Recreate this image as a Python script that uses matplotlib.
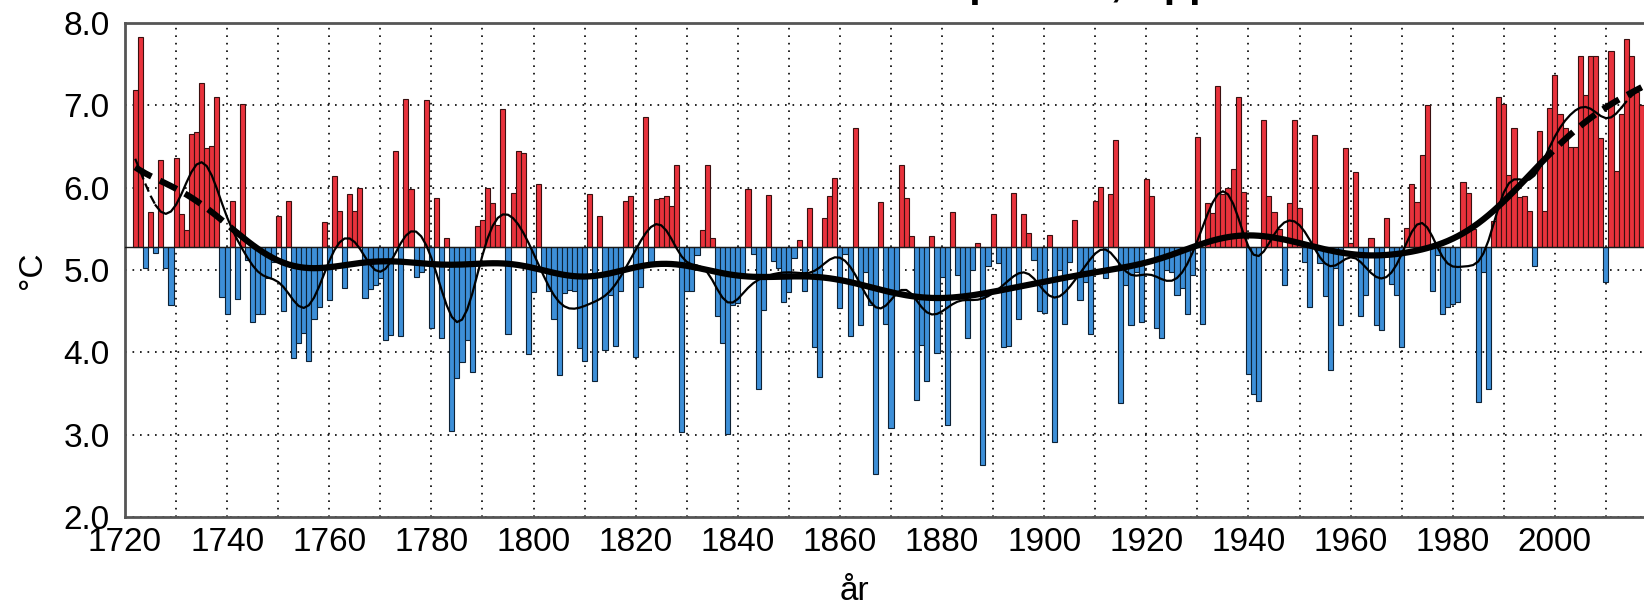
import numpy as np
import matplotlib.pyplot as plt

plt.rcParams['font.family'] = ['Liberation Sans', 'DejaVu Sans']

# annual mean temperature, Uppsala
years = np.arange(1722, 2018)
temps = [
    7.19, 7.83, 5.02, 5.70, 5.21, 6.34, 5.02, 4.58,                    # 1722-1729
    6.36, 5.68, 5.49, 6.65, 6.68, 7.27, 6.48, 6.51, 7.10, 4.67,        # 1730s
    4.46, 5.84, 4.65, 7.02, 5.12, 4.37, 4.47, 4.46, 4.90, 5.10,        # 1740s
    5.65, 4.50, 5.84, 3.93, 4.11, 4.23, 3.89, 4.40, 4.55, 5.58,        # 1750s
    4.63, 6.14, 5.72, 4.78, 5.92, 5.72, 5.99, 4.66, 4.77, 4.82,        # 1760s
    4.90, 4.15, 4.21, 6.44, 4.20, 7.08, 5.98, 4.91, 4.97, 7.06,        # 1770s
    4.30, 5.88, 4.18, 5.39, 3.05, 3.69, 3.88, 4.15, 3.76, 5.53,        # 1780s
    5.61, 5.99, 5.81, 5.55, 6.96, 4.22, 5.94, 6.44, 6.42, 3.98,        # 1790s
    4.73, 6.04, 5.00, 4.75, 4.41, 3.72, 4.72, 4.76, 4.74, 4.05,        # 1800s
    3.89, 5.92, 3.65, 5.65, 4.03, 4.70, 4.08, 4.75, 5.84, 5.90,        # 1810s
    3.94, 4.79, 6.86, 5.10, 5.86, 5.88, 5.90, 5.78, 6.27, 3.03,        # 1820s
    4.74, 4.74, 5.18, 5.49, 6.27, 5.39, 4.44, 4.11, 3.01, 4.57,        # 1830s
    4.60, 4.90, 5.98, 5.19, 3.56, 4.52, 5.91, 5.11, 5.02, 4.61,        # 1840s
    4.73, 5.14, 5.37, 4.74, 5.75, 4.06, 3.70, 5.63, 5.90, 6.12,        # 1850s
    4.54, 5.20, 4.20, 6.72, 4.33, 4.97, 4.57, 2.52, 5.82, 4.35,        # 1860s
    3.08, 4.70, 6.27, 5.88, 5.41, 3.42, 4.09, 3.65, 5.41, 3.99,        # 1870s
    4.92, 3.12, 5.70, 4.94, 4.71, 4.17, 5.00, 5.33, 2.63, 5.05,        # 1880s
    5.68, 5.08, 4.06, 4.08, 5.94, 4.40, 5.68, 5.45, 5.12, 4.50,        # 1890s
    4.48, 5.43, 2.91, 5.00, 4.34, 5.10, 5.61, 4.63, 4.86, 4.22,        # 1900s
    5.84, 6.01, 4.90, 5.92, 6.58, 3.38, 4.82, 4.33, 4.98, 4.37,        # 1910s
    6.10, 5.90, 4.29, 4.17, 5.00, 4.98, 4.70, 4.78, 4.46, 4.94,        # 1920s
    6.62, 4.34, 5.81, 5.69, 7.23, 5.92, 6.00, 6.23, 7.10, 5.95,        # 1930s
    3.74, 3.50, 3.41, 6.82, 5.90, 5.70, 5.50, 4.82, 5.81, 6.82,        # 1940s
    5.75, 5.10, 4.55, 6.64, 5.09, 4.68, 3.78, 5.02, 4.33, 6.48,        # 1950s
    5.33, 6.19, 4.44, 4.70, 5.39, 4.33, 4.27, 5.63, 4.83, 4.70,        # 1960s
    4.06, 5.51, 6.05, 5.83, 6.40, 7.00, 4.75, 5.18, 4.46, 4.55,        # 1970s
    4.59, 4.61, 6.07, 5.93, 5.50, 3.40, 4.97, 3.56, 5.60, 7.10,        # 1980s
    7.02, 6.15, 6.72, 5.89, 5.90, 5.72, 5.05, 6.69, 5.72, 6.97,        # 1990s
    7.37, 6.90, 6.72, 6.50, 6.50, 7.60, 7.13, 7.60, 7.60, 6.60,        # 2000s
    4.85, 7.66, 6.20, 6.90, 7.80, 7.60, 7.16, 7.00,                    # 2010-2017
]
baseline = 5.28

x_ticks = list(range(1720, 2001, 20))
y_ticks = [2.0, 3.0, 4.0, 5.0, 6.0, 7.0, 8.0]


def gauss_mean(x, y, sigma):
    out = np.empty(len(x))
    for i, x0 in enumerate(x):
        w = np.exp(-0.5 * ((x - x0) / sigma) ** 2)
        out[i] = np.sum(w * y) / np.sum(w)
    return out


def local_linear(x, y, sigma):
    # gaussian weighted local linear fit (keeps the trend at the ends)
    out = np.empty(len(x))
    for i, x0 in enumerate(x):
        w = np.sqrt(np.exp(-0.5 * ((x - x0) / sigma) ** 2))
        A = np.vstack([np.ones_like(x), x - x0]).T * w[:, None]
        coef = np.linalg.lstsq(A, y * w, rcond=None)[0]
        out[i] = coef[0]
    return out


x = years.astype(float)
y = np.array(temps)
thin = gauss_mean(x, y, 3.0)
thick = local_linear(x, y, 10.0)

fig = plt.figure(figsize=(16.44, 6.07), dpi=100)
ax = fig.add_axes([125 / 1644, 90 / 607, 1532 / 1644, 494 / 607])

above = y >= baseline
ax.bar(x[above], y[above] - baseline, bottom=baseline, width=1.0,
       color='#e8323c', edgecolor='#3a1010', linewidth=0.8, zorder=2)
ax.bar(x[~above], y[~above] - baseline, bottom=baseline, width=1.0,
       color='#3d8fd8', edgecolor='#0d2236', linewidth=0.8, zorder=2)
ax.plot([1720, 2020], [baseline, baseline], color='#1a1a1a', lw=1.0, zorder=3)

# thin curve, dashed at the edges
e1 = 4
ax.plot(x[:e1 + 1], thin[:e1 + 1], color='black', lw=1.6, ls=(0, (4, 2)), zorder=4)
ax.plot(x[e1:-e1], thin[e1:-e1], color='black', lw=1.6, zorder=4)
ax.plot(x[-e1 - 1:], thin[-e1 - 1:], color='black', lw=1.6, ls=(0, (4, 2)), zorder=4)

# thick curve, dashed at the edges
e2 = 20
ax.plot(x[:e2 + 1], thick[:e2 + 1], color='black', lw=4.5, ls=(0, (3, 1.5)), zorder=5)
ax.plot(x[e2:-e2], thick[e2:-e2], color='black', lw=4.5, zorder=5,
        solid_capstyle='round')
ax.plot(x[-e2 - 1:], thick[-e2 - 1:], color='black', lw=4.5, ls=(0, (3, 1.5)), zorder=5)

ax.set_xlim(1720.62, 2020)
ax.set_ylim(2, 8)
ax.set_xticks(x_ticks)
ax.set_xticks(range(1730, 2020, 10), minor=True)
ax.set_xticklabels([str(t) for t in x_ticks])
ax.set_yticks(y_ticks)
ax.set_yticklabels([f'{t:.1f}' for t in y_ticks])
ax.tick_params(axis='both', which='both', length=0, labelsize=24)
ax.tick_params(axis='x', pad=7)
ax.tick_params(axis='y', pad=11)

ax.grid(True, which='both', axis='x', color='black', lw=1.2, ls=(0, (1, 3.5)))
ax.grid(True, which='major', axis='y', color='black', lw=1.2, ls=(0, (1, 3.5)))
ax.set_axisbelow(True)

for s in ax.spines.values():
    s.set_color('#555555')
    s.set_linewidth(2)

fig.text(854.5 / 1644, 1 - 592 / 607, 'år', ha='center', va='center', fontsize=24)
fig.text(32 / 1644, 1 - 270 / 607, '°C', ha='center', va='center', fontsize=24,
         rotation=90)

# title mostly outside the cropped picture
fig.text(1000 / 1644, 1.006, 'Årsmedeltemperatur, Uppsala', ha='center', va='baseline',
         fontsize=30, fontweight='bold')

fig.savefig('out.png', dpi=100)
